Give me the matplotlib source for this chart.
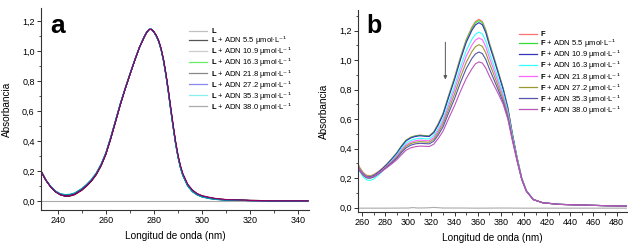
import matplotlib
matplotlib.use("Agg")
import matplotlib.pyplot as plt
from matplotlib.lines import Line2D
from matplotlib.ticker import MultipleLocator, FuncFormatter

plt.rcParams["font.family"] = ["Liberation Sans", "DejaVu Sans"]
plt.rcParams["mathtext.fontset"] = "custom"
plt.rcParams["mathtext.rm"] = "Liberation Sans"
plt.rcParams["mathtext.bf"] = "Liberation Sans:bold"
plt.rcParams["mathtext.sf"] = "DejaVu Sans"

# ---- panel a: L + ADN
wl_a = [233, 235, 237, 239, 241, 243, 245, 247, 250, 252, 254, 256, 258, 260, 262, 264, 266, 268, 270, 272, 274, 276, 277,
        278, 279, 280, 281, 282, 283, 284, 285, 286, 287, 288, 289, 290, 291, 292, 294, 296, 298, 300, 303, 306, 310, 320, 330, 344]
a_L    = [0.200, 0.140, 0.095, 0.062, 0.042, 0.032, 0.033, 0.042, 0.072, 0.100, 0.133, 0.176, 0.235, 0.312, 0.415, 0.528, 0.643, 0.748, 0.845, 0.940, 1.028, 1.098, 1.128,
          1.146, 1.147, 1.130, 1.104, 1.068, 1.014, 0.940, 0.845, 0.735, 0.615, 0.500, 0.392, 0.302, 0.232, 0.179, 0.109, 0.070, 0.047, 0.034, 0.023, 0.015, 0.009, 0.004, 0.002, 0.002]
a_5_5  = [0.200, 0.140, 0.095, 0.062, 0.042, 0.033, 0.035, 0.044, 0.074, 0.102, 0.135, 0.178, 0.237, 0.314, 0.417, 0.530, 0.644, 0.748, 0.845, 0.940, 1.028, 1.098, 1.128,
          1.146, 1.147, 1.130, 1.104, 1.068, 1.014, 0.940, 0.845, 0.734, 0.614, 0.499, 0.391, 0.301, 0.231, 0.178, 0.108, 0.069, 0.046, 0.033, 0.022, 0.014, 0.009, 0.004, 0.002, 0.002]
a_10_9 = [0.200, 0.140, 0.095, 0.063, 0.043, 0.035, 0.037, 0.046, 0.076, 0.104, 0.137, 0.180, 0.239, 0.316, 0.419, 0.532, 0.646, 0.749, 0.846, 0.940, 1.028, 1.098, 1.128,
          1.147, 1.147, 1.130, 1.103, 1.067, 1.013, 0.939, 0.843, 0.732, 0.612, 0.497, 0.389, 0.299, 0.229, 0.176, 0.107, 0.068, 0.045, 0.032, 0.021, 0.013, 0.008, 0.003, 0.002, 0.002]
a_16_3 = [0.200, 0.140, 0.096, 0.064, 0.045, 0.037, 0.039, 0.048, 0.078, 0.106, 0.139, 0.182, 0.241, 0.318, 0.421, 0.534, 0.648, 0.750, 0.847, 0.941, 1.029, 1.099, 1.129,
          1.147, 1.147, 1.129, 1.101, 1.065, 1.010, 0.935, 0.839, 0.727, 0.606, 0.491, 0.383, 0.294, 0.224, 0.171, 0.102, 0.063, 0.041, 0.028, 0.018, 0.011, 0.007, 0.003, 0.002, 0.002]
a_21_8 = [0.200, 0.140, 0.096, 0.064, 0.045, 0.037, 0.039, 0.048, 0.078, 0.106, 0.139, 0.182, 0.241, 0.318, 0.421, 0.534, 0.648, 0.750, 0.847, 0.941, 1.029, 1.099, 1.129,
          1.147, 1.147, 1.130, 1.103, 1.067, 1.012, 0.938, 0.842, 0.731, 0.611, 0.496, 0.388, 0.298, 0.228, 0.175, 0.105, 0.066, 0.043, 0.030, 0.019, 0.012, 0.007, 0.003, 0.002, 0.002]
a_27_2 = [0.200, 0.141, 0.097, 0.066, 0.048, 0.041, 0.043, 0.052, 0.082, 0.110, 0.143, 0.186, 0.245, 0.322, 0.425, 0.537, 0.650, 0.752, 0.848, 0.942, 1.029, 1.099, 1.129,
          1.148, 1.148, 1.129, 1.101, 1.065, 1.010, 0.935, 0.839, 0.727, 0.607, 0.492, 0.384, 0.295, 0.225, 0.173, 0.103, 0.064, 0.042, 0.029, 0.018, 0.011, 0.007, 0.003, 0.002, 0.002]
a_35_3 = [0.201, 0.141, 0.098, 0.067, 0.049, 0.043, 0.045, 0.054, 0.084, 0.112, 0.145, 0.188, 0.247, 0.324, 0.427, 0.539, 0.652, 0.753, 0.849, 0.943, 1.030, 1.100, 1.130,
          1.148, 1.148, 1.128, 1.100, 1.063, 1.008, 0.933, 0.836, 0.724, 0.603, 0.488, 0.380, 0.292, 0.222, 0.170, 0.100, 0.062, 0.040, 0.027, 0.016, 0.010, 0.006, 0.003, 0.002, 0.002]
a_38_0 = [0.200, 0.140, 0.095, 0.062, 0.042, 0.034, 0.036, 0.045, 0.075, 0.103, 0.136, 0.179, 0.238, 0.315, 0.418, 0.531, 0.645, 0.748, 0.845, 0.940, 1.028, 1.098, 1.128,
          1.146, 1.147, 1.131, 1.105, 1.070, 1.017, 0.944, 0.850, 0.741, 0.622, 0.507, 0.399, 0.308, 0.238, 0.184, 0.114, 0.074, 0.050, 0.036, 0.025, 0.016, 0.010, 0.004, 0.002, 0.002]
base_a_wl = [233, 344]
base_a = [0.0, 0.0]

series_a = [a_L, a_5_5, a_10_9, a_16_3, a_21_8, a_27_2, a_35_3, a_38_0]
conc = ["5.5", "10.9", "16.3", "21.8", "27.2", "35.3", "38.0"]
labels_a = [r"$\mathbf{L}$"] + [r"$\mathbf{L}$ + ADN " + c + r" µmol·L$\mathsf{⁻¹}$" for c in conc]
curve_colors_a = ["#a00000", "#000000", "#cc00cc", "#00a000", "#000080", "#2040ff", "#00a0a0", "#900060"]
legend_colors_a = ["#c0c0c0", "#555555", "#cccccc", "#66ee66", "#888888", "#8888ee", "#88eeee", "#aaaaaa"]

# ---- panel b: F + ADN
wl_b = [256, 258, 261, 264, 267, 270, 274, 278, 282, 286, 290, 294, 298, 302, 306, 310, 314, 318, 322, 326, 330, 335,
        340, 345, 350, 355, 358, 361, 364, 367, 370, 374, 378, 382, 386, 390, 394, 398, 402, 408, 416, 430, 450, 470, 489]
b_F    = [0.310, 0.272, 0.238, 0.219, 0.216, 0.224, 0.244, 0.270, 0.300, 0.335, 0.372, 0.418, 0.458, 0.477, 0.487, 0.492, 0.489, 0.487, 0.515, 0.572, 0.640, 0.765,
          0.886, 1.020, 1.140, 1.225, 1.262, 1.277, 1.262, 1.205, 1.120, 1.020, 0.915, 0.810, 0.680, 0.500, 0.340, 0.200, 0.115, 0.055, 0.033, 0.022, 0.017, 0.013, 0.010]
b_5_5  = [0.300, 0.265, 0.232, 0.213, 0.211, 0.219, 0.240, 0.267, 0.298, 0.334, 0.371, 0.417, 0.456, 0.476, 0.486, 0.490, 0.487, 0.485, 0.512, 0.568, 0.636, 0.760,
          0.880, 1.013, 1.132, 1.216, 1.253, 1.268, 1.254, 1.198, 1.114, 1.015, 0.911, 0.807, 0.677, 0.498, 0.339, 0.200, 0.115, 0.055, 0.033, 0.022, 0.017, 0.013, 0.010]
b_10_9 = [0.290, 0.258, 0.227, 0.209, 0.207, 0.216, 0.238, 0.265, 0.296, 0.331, 0.367, 0.413, 0.452, 0.472, 0.482, 0.487, 0.484, 0.482, 0.508, 0.563, 0.630, 0.752,
          0.870, 1.002, 1.119, 1.203, 1.239, 1.254, 1.240, 1.185, 1.103, 1.006, 0.904, 0.801, 0.672, 0.494, 0.337, 0.199, 0.115, 0.055, 0.033, 0.022, 0.017, 0.013, 0.010]
b_16_3 = [0.277, 0.245, 0.208, 0.188, 0.184, 0.193, 0.218, 0.250, 0.285, 0.322, 0.357, 0.400, 0.437, 0.455, 0.465, 0.470, 0.467, 0.465, 0.489, 0.540, 0.602, 0.716,
          0.828, 0.952, 1.063, 1.142, 1.176, 1.190, 1.178, 1.128, 1.052, 0.962, 0.868, 0.773, 0.654, 0.485, 0.332, 0.197, 0.114, 0.055, 0.033, 0.022, 0.017, 0.013, 0.010]
b_21_8 = [0.292, 0.258, 0.225, 0.206, 0.203, 0.211, 0.232, 0.258, 0.285, 0.317, 0.350, 0.390, 0.425, 0.443, 0.453, 0.458, 0.455, 0.453, 0.475, 0.525, 0.585, 0.694,
          0.801, 0.920, 1.026, 1.103, 1.136, 1.150, 1.138, 1.090, 1.018, 0.931, 0.842, 0.752, 0.638, 0.474, 0.327, 0.195, 0.113, 0.055, 0.033, 0.022, 0.017, 0.013, 0.010]
b_27_2 = [0.285, 0.252, 0.220, 0.202, 0.199, 0.207, 0.228, 0.254, 0.281, 0.311, 0.342, 0.381, 0.416, 0.434, 0.443, 0.447, 0.445, 0.443, 0.463, 0.510, 0.566, 0.670,
          0.771, 0.884, 0.985, 1.059, 1.091, 1.105, 1.093, 1.048, 0.981, 0.900, 0.816, 0.732, 0.623, 0.465, 0.322, 0.193, 0.112, 0.054, 0.033, 0.022, 0.017, 0.013, 0.010]
b_35_3 = [0.280, 0.250, 0.219, 0.202, 0.200, 0.208, 0.228, 0.252, 0.278, 0.306, 0.335, 0.372, 0.405, 0.423, 0.432, 0.436, 0.434, 0.432, 0.450, 0.494, 0.547, 0.645,
          0.740, 0.847, 0.942, 1.012, 1.042, 1.055, 1.044, 1.003, 0.942, 0.868, 0.792, 0.715, 0.610, 0.458, 0.318, 0.191, 0.111, 0.054, 0.033, 0.022, 0.017, 0.013, 0.010]
b_38_0 = [0.282, 0.252, 0.222, 0.206, 0.204, 0.211, 0.229, 0.251, 0.274, 0.298, 0.324, 0.358, 0.389, 0.405, 0.413, 0.417, 0.416, 0.414, 0.430, 0.470, 0.518, 0.607,
          0.692, 0.788, 0.875, 0.942, 0.975, 0.988, 0.980, 0.945, 0.893, 0.830, 0.768, 0.700, 0.600, 0.452, 0.315, 0.190, 0.110, 0.054, 0.033, 0.022, 0.017, 0.013, 0.010]
base_b_wl = [256, 280, 300, 304, 308, 316, 322, 330, 345, 360, 380, 400, 420, 440, 460, 489]
base_b = [-0.004, -0.004, -0.003, 0.000, -0.003, -0.002, 0.001, -0.003, -0.003, -0.004, -0.003, -0.004, -0.004, -0.004, -0.004, -0.004]

series_b = [b_F, b_5_5, b_10_9, b_16_3, b_21_8, b_27_2, b_35_3, b_38_0]
labels_b = [r"$\mathbf{F}$"] + [r"$\mathbf{F}$ + ADN " + c + r" µmol·L$\mathsf{⁻¹}$" for c in conc]
colors_b = ["#ff7070", "#33dd33", "#3333bb", "#33ffff", "#ff66ff", "#999933", "#5555aa", "#bb55bb"]


def style(ax, xlim, ylim, xmajor):
    ax.set_xlim(*xlim); ax.set_ylim(*ylim)
    for s in ("top", "right"): ax.spines[s].set_visible(False)
    for s in ("left", "bottom"): ax.spines[s].set_linewidth(0.8); ax.spines[s].set_color("#333333")
    ax.xaxis.set_major_locator(MultipleLocator(xmajor)); ax.xaxis.set_minor_locator(MultipleLocator(xmajor / 2))
    ax.yaxis.set_major_locator(MultipleLocator(0.2)); ax.yaxis.set_minor_locator(MultipleLocator(0.1))
    ax.yaxis.set_major_formatter(FuncFormatter(lambda v, _: f"{v:.1f}".replace(".", ",").replace("-0,0", "0,0")))
    ax.tick_params(which="major", direction="out", length=3, width=0.7, labelsize=6.5, pad=1.5, color="#333333")
    ax.tick_params(which="minor", direction="out", length=1.8, width=0.6, color="#333333")
    ax.set_xlabel("Longitud de onda (nm)", fontsize=7.2, labelpad=4)
    ax.set_ylabel("Absorbancia", fontsize=7.2, labelpad=7)


fig = plt.figure(figsize=(6.33, 2.43), dpi=100)
ax_a = fig.add_axes([41 / 633, 33 / 243, 268 / 633, 202 / 243])
ax_b = fig.add_axes([358 / 633, 31 / 243, 269 / 633, 202 / 243])

ax_a.plot(base_a_wl, base_a, color="#aaaaaa", lw=0.8)
for ys, c in zip(series_a, curve_colors_a):
    ax_a.plot(wl_a, ys, color=c, lw=0.8)
style(ax_a, (233, 344.5), (-0.06, 1.29), 20)
handles_a = [Line2D([], [], color=c, lw=0.9) for c in legend_colors_a]
ax_a.legend(handles_a, labels_a, loc="upper left", bbox_to_anchor=(0.552, 0.91), frameon=False, fontsize=5.5,
            handlelength=2.4, handletextpad=0.45, labelspacing=-0.12, borderpad=0, borderaxespad=0)

ax_b.plot(base_b_wl, base_b, color="#aaaaaa", lw=0.8)
for ys, c in zip(series_b, colors_b):
    ax_b.plot(wl_b, ys, color=c, lw=0.8)
style(ax_b, (256.5, 489), (-0.03, 1.34), 20)
ax_b.annotate("", xy=(332, 0.85), xytext=(332, 1.14),
              arrowprops=dict(arrowstyle="-|>", color="#555555", lw=0.7, mutation_scale=5))
ax_b.legend([Line2D([], [], color=c, lw=0.9) for c in colors_b], labels_b, loc="upper left",
            bbox_to_anchor=(0.599, 0.905), frameon=False, fontsize=5.5,
            handlelength=2.3, handletextpad=0.45, labelspacing=-0.12, borderpad=0, borderaxespad=0)

fig.text(50 / 633, 1 - 33.3 / 243, "a", fontsize=19, fontweight="bold", va="baseline")
fig.text(366.7 / 633, 1 - 33.3 / 243, "b", fontsize=18, fontweight="bold", va="baseline")

fig.savefig("out.png", dpi=100)
